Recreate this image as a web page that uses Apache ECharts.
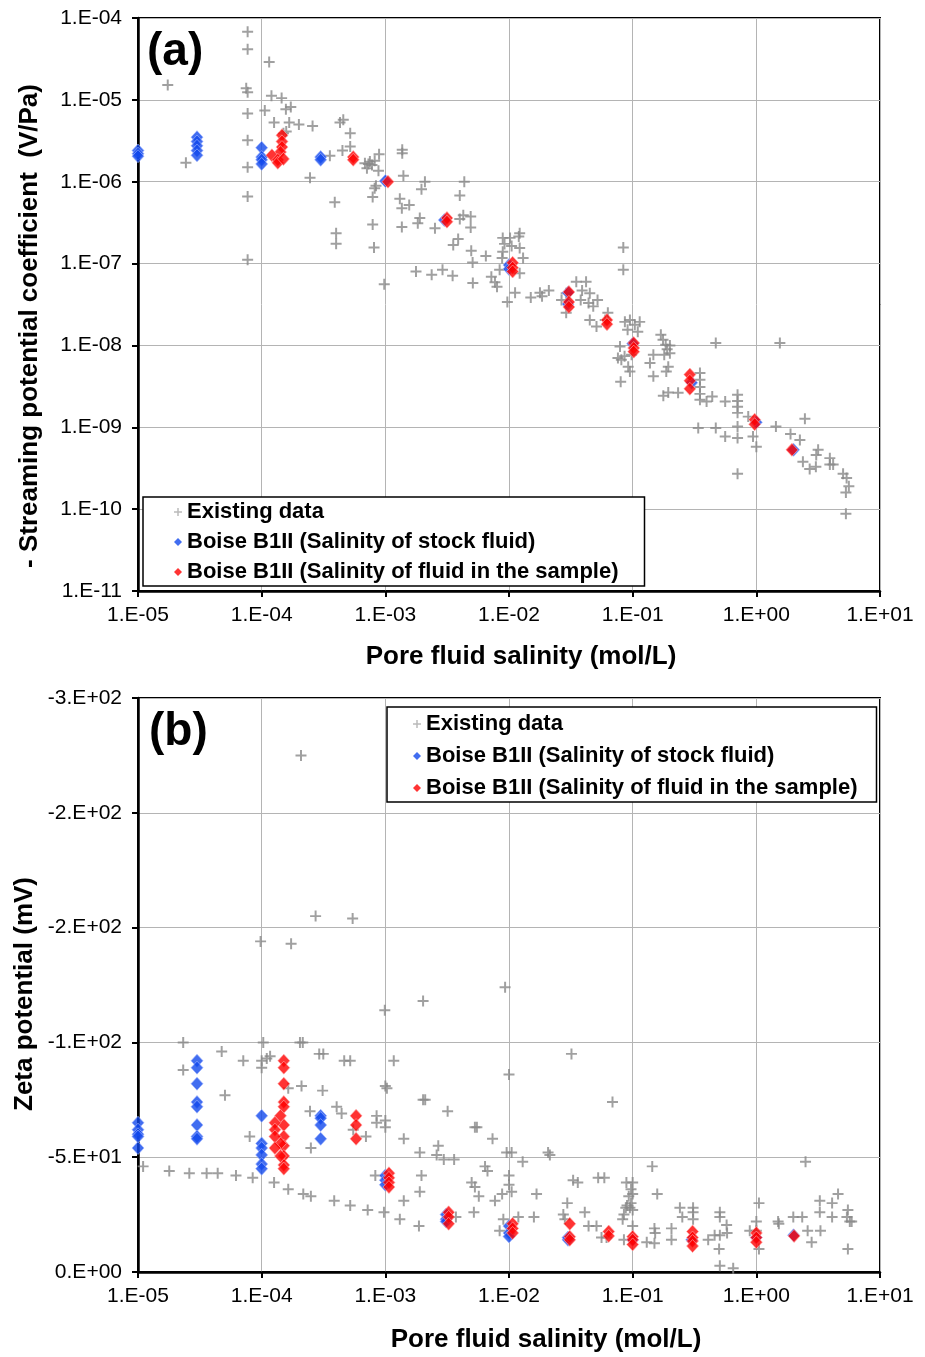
<!DOCTYPE html>
<html>
<head>
<meta charset="utf-8">
<title>Streaming potential coefficient and zeta potential vs pore fluid salinity</title>
<script src="https://cdn.jsdelivr.net/npm/echarts@6/dist/echarts.min.js"></script>
<style>
  html, body { margin: 0; padding: 0; background: #fff; }
  #chart { width: 925px; height: 1357px; }
</style>
</head>
<body>
<div id="chart"></div>
<script>
const FONT = '"Liberation Sans", Arial, sans-serif';
const PLUS = 'path://M0,4.1H10V5.9H0Z M4.1,0H5.9V10H4.1Z';

const seriesNames = [
  'Existing data',
  'Boise B1II (Salinity of stock fluid)',
  'Boise B1II (Salinity of fluid in the sample)'
];

const xTicks = [1e-5, 1e-4, 1e-3, 1e-2, 1e-1, 1, 10];
const coefTicks = [1e-11, 1e-10, 1e-9, 1e-8, 1e-7, 1e-6, 1e-5, 1e-4];
const zetaTicks = [0, -50, -100, -150, -200, -250];

// (a) salinity (mol/L), - streaming potential coefficient (V/Pa)
const existingA = [
  [7.7e-5, 6.8e-5], [7.7e-5, 4.15e-5], [1.15e-4, 2.9e-5], [1.74e-5, 1.52e-5], [7.5e-5, 1.39e-5],
  [7.7e-5, 1.24e-5], [1.2e-4, 1.12e-5], [1.45e-4, 1.05e-5], [1.06e-4, 7.4e-6], [1.57e-4, 7.7e-6],
  [1.72e-4, 8.2e-6], [7.7e-5, 6.8e-6], [1.26e-4, 5.3e-6], [1.67e-4, 5.3e-6], [2.0e-4, 5.0e-6],
  [2.58e-4, 4.8e-6], [4.3e-4, 5.3e-6], [4.57e-4, 5.7e-6], [5.2e-4, 3.9e-6], [1.58e-4, 4.1e-6],
  [1.5e-4, 3.9e-6], [7.7e-5, 3.2e-6], [5.2e-4, 2.7e-6], [4.5e-4, 2.4e-6], [3.56e-4, 2.07e-6],
  [2.44e-5, 1.71e-6], [7.7e-5, 1.5e-6], [2.46e-4, 1.12e-6], [6.84e-4, 1.68e-6], [7.5e-4, 1.76e-6],
  [8.2e-4, 1.8e-6], [8.9e-4, 2.17e-6], [8.8e-4, 1.36e-6], [7.1e-4, 1.46e-6], [7.8e-4, 1.6e-6],
  [7.3e-4, 1.65e-6], [8.4e-4, 8.9e-7], [8.2e-4, 8.3e-7], [7.7e-5, 6.6e-7], [3.9e-4, 5.6e-7],
  [7.9e-4, 6.5e-7], [4.0e-4, 2.35e-7], [4.0e-4, 1.75e-7], [7.9e-4, 3.0e-7], [8.1e-4, 1.57e-7],
  [7.7e-5, 1.11e-7], [1.37e-3, 2.45e-6], [1.37e-3, 2.23e-6], [1.4e-3, 1.18e-6], [2.09e-3, 1.0e-6],
  [1.96e-3, 8.1e-7], [4.35e-3, 1.0e-6], [4.0e-3, 6.8e-7], [1.31e-3, 6.2e-7], [1.36e-3, 4.75e-7],
  [1.56e-3, 5.2e-7], [1.9e-3, 3.6e-7], [1.83e-3, 3.1e-7], [1.36e-3, 2.8e-7], [2.52e-3, 2.7e-7],
  [4.27e-3, 3.9e-7], [4.9e-3, 3.75e-7], [4.0e-3, 3.5e-7], [4.9e-3, 2.75e-7], [3.88e-3, 1.99e-7],
  [3.54e-3, 1.69e-7], [4.95e-3, 1.43e-7], [5.08e-3, 1.03e-7], [6.5e-3, 1.24e-7], [1.22e-2, 2.35e-7],
  [1.2e-2, 2.14e-7], [8.9e-3, 2.06e-7], [1.02e-2, 2.06e-7], [9.2e-3, 1.74e-7], [1.05e-2, 1.64e-7],
  [8.9e-3, 1.39e-7], [1.22e-2, 1.55e-7], [1.3e-2, 1.17e-7], [8.8e-3, 1.17e-7], [1.77e-3, 8.0e-8],
  [2.37e-3, 7.3e-8], [2.9e-3, 8.4e-8], [3.5e-3, 7.1e-8], [5.1e-3, 5.8e-8], [9.8e-4, 5.6e-8],
  [7.2e-3, 6.9e-8], [7.7e-3, 5.9e-8], [8.0e-3, 5.2e-8], [8.4e-3, 8.4e-8], [1.22e-2, 7.6e-8],
  [1.12e-2, 4.4e-8], [9.7e-3, 3.4e-8], [1.5e-2, 3.85e-8], [1.78e-2, 4.4e-8], [1.85e-2, 4.0e-8],
  [2.1e-2, 4.7e-8], [8.4e-2, 1.57e-7], [8.4e-2, 8.4e-8], [2.9e-2, 4.35e-8], [2.66e-2, 3.6e-8],
  [2.9e-2, 2.5e-8], [3.5e-2, 6.0e-8], [4.2e-2, 6.0e-8], [4.5e-2, 4.35e-8], [4.4e-2, 3.3e-8],
  [4.8e-2, 3.0e-8], [3.9e-2, 4.7e-8], [5.2e-2, 3.6e-8], [3.8e-2, 3.6e-8], [6.3e-2, 2.5e-8],
  [6.0e-2, 2.05e-8], [4.5e-2, 2.05e-8], [5.1e-2, 1.7e-8], [8.65e-2, 1.94e-8], [9.5e-2, 2.05e-8],
  [1.04e-1, 1.79e-8], [1.14e-1, 1.94e-8], [9.1e-2, 1.55e-8], [1.1e-1, 1.47e-8], [7.9e-2, 9.7e-9],
  [8.1e-2, 6.7e-9], [9.2e-2, 5.5e-9], [9.5e-2, 4.8e-9], [8.0e-2, 3.6e-9], [7.6e-2, 7.0e-9],
  [8.6e-2, 7.4e-9], [9.8e-2, 7.7e-9], [1.69e-1, 1.35e-8], [1.76e-1, 1.17e-8], [1.85e-1, 1.02e-8],
  [1.9e-1, 9.0e-9], [2.0e-1, 8.0e-9], [1.8e-1, 7.7e-9], [2.0e-1, 1.0e-8], [1.47e-1, 7.7e-9],
  [1.38e-1, 6.1e-9], [1.47e-1, 4.2e-9], [1.94e-1, 5.5e-9], [1.87e-1, 4.8e-9], [1.77e-1, 2.43e-9],
  [1.94e-1, 2.66e-9], [2.33e-1, 2.64e-9], [3.5e-1, 4.6e-9], [3.5e-1, 3.8e-9], [3.5e-1, 3.1e-9],
  [3.5e-1, 2.56e-9], [3.5e-1, 2.17e-9], [3.96e-1, 2.07e-9], [4.4e-1, 2.38e-9], [5.6e-1, 2.07e-9],
  [7.05e-1, 2.5e-9], [7.05e-1, 2.09e-9], [7.05e-1, 1.78e-9], [7.05e-1, 1.5e-9], [4.7e-1, 1.07e-8],
  [1.55, 1.07e-8], [3.39e-1, 9.8e-10], [4.7e-1, 9.8e-10], [5.6e-1, 7.7e-10], [7.05e-1, 1.02e-9],
  [7.05e-1, 7.4e-10], [8.6e-1, 1.35e-9], [9.4e-1, 7.7e-10], [1.0, 5.8e-10], [7.05e-1, 2.7e-10],
  [1.44, 1.02e-9], [1.89, 8.3e-10], [2.25, 7.0e-10], [2.47, 1.27e-9], [2.38, 3.8e-10],
  [2.7, 3.1e-10], [3.03, 3.3e-10], [3.16, 5.3e-10], [3.05, 4.6e-10], [3.93, 4.2e-10],
  [4.18, 3.5e-10], [3.93, 3.5e-10], [5.03, 2.7e-10], [5.37, 2.4e-10], [5.6, 1.9e-10],
  [5.3, 1.6e-10], [5.3, 8.8e-11]
];

const stockA = [
  [1e-5, 2.4e-6], [1e-5, 2.2e-6], [1e-5, 2.05e-6],
  [3e-5, 3.5e-6], [3e-5, 3.1e-6], [3e-5, 2.75e-6], [3e-5, 2.4e-6], [3e-5, 2.1e-6],
  [1e-4, 2.6e-6], [1e-4, 2.0e-6], [1e-4, 1.85e-6], [1e-4, 1.65e-6],
  [3e-4, 2.0e-6], [3e-4, 1.85e-6],
  [1e-3, 1.02e-6], [3e-3, 3.4e-7], [1e-2, 9.6e-8], [1e-2, 8.6e-8],
  [3e-2, 4.4e-8], [3e-2, 3.2e-8], [1e-1, 1.05e-8], [0.3, 3.5e-9], [1.0, 1.15e-9], [2.0, 5.3e-10]
];

const sampleA = [
  [1.46e-4, 3.7e-6], [1.46e-4, 3.1e-6], [1.46e-4, 2.65e-6], [1.42e-4, 2.3e-6], [1.21e-4, 2.1e-6],
  [1.35e-4, 1.85e-6], [1.35e-4, 1.7e-6], [1.5e-4, 1.9e-6],
  [5.5e-4, 2.0e-6], [5.5e-4, 1.85e-6],
  [1.05e-3, 1.0e-6],
  [3.15e-3, 3.6e-7], [3.15e-3, 3.25e-7],
  [1.07e-2, 1.02e-7], [1.07e-2, 8.9e-8], [1.07e-2, 8.0e-8],
  [3.05e-2, 4.5e-8], [3.05e-2, 3.4e-8], [3.05e-2, 2.95e-8],
  [6.2e-2, 2.05e-8], [6.2e-2, 1.82e-8],
  [1.02e-1, 1.07e-8], [1.02e-1, 9.3e-9], [1.02e-1, 8.4e-9],
  [0.29, 4.4e-9], [0.29, 3.7e-9], [0.29, 2.95e-9],
  [0.97, 1.24e-9], [0.97, 1.09e-9],
  [1.94, 5.3e-10]
];

// (b) salinity (mol/L), zeta potential (mV)
const existingB = [
  [2.08e-4, -225], [2.73e-4, -155], [5.44e-4, -154], [9.8e-5, -144], [1.73e-4, -143],
  [9.9e-4, -114], [2.02e-3, -118], [9.3e-3, -124], [2.32e-5, -100], [2.32e-5, -88],
  [4.75e-5, -96], [7.1e-5, -92], [1.03e-4, -100], [1.0e-4, -92], [1.0e-4, -89],
  [1.1e-4, -93], [1.17e-4, -94], [2.04e-4, -100], [2.15e-4, -100], [2.92e-4, -95],
  [3.15e-4, -95], [4.65e-4, -92], [5.2e-4, -92], [5.05e-5, -77], [1.64e-4, -80],
  [2.1e-4, -81], [3.11e-4, -79], [2.46e-4, -70], [4.04e-4, -72], [4.43e-4, -69],
  [8.0e-5, -59], [2.5e-4, -54], [5.5e-4, -62], [6.97e-4, -59], [8.5e-4, -68],
  [8.5e-4, -65], [1.0e-3, -66], [1.0e-3, -63], [1.0e-3, -81], [1.03e-3, -80],
  [8.3e-4, -42], [1.1e-5, -46], [1.79e-5, -44], [2.6e-5, -43], [3.59e-5, -43],
  [4.41e-5, -43], [6.2e-5, -42], [8.46e-5, -41], [1.26e-4, -39], [1.64e-4, -36],
  [2.17e-4, -34], [2.5e-4, -33], [3.86e-4, -31], [5.2e-4, -29], [7.2e-4, -27],
  [9.75e-4, -26], [1.17e-3, -92], [2.02e-3, -75], [2.1e-3, -75], [3.19e-3, -70],
  [5.3e-3, -63], [5.5e-3, -63], [1.0e-2, -86], [3.2e-2, -95], [6.87e-2, -74],
  [1.41e-3, -58], [1.9e-3, -52], [2.68e-3, -55], [2.6e-3, -51], [2.97e-3, -49],
  [3.6e-3, -49], [7.36e-3, -58], [9.57e-3, -52], [1.05e-2, -52], [1.29e-2, -48],
  [2.07e-2, -52], [2.14e-2, -51], [6.4e-3, -46], [6.7e-3, -44], [1.0e-2, -42],
  [1.0e-2, -38], [1.05e-2, -35], [8.8e-3, -34], [4.99e-3, -39], [5.3e-3, -37],
  [5.7e-3, -33], [7.7e-3, -31], [1.67e-2, -34], [1.96e-3, -42], [1.9e-3, -35],
  [1.41e-3, -31], [1.31e-3, -23], [1.87e-3, -20], [3.72e-3, -24], [5.2e-3, -26],
  [9.0e-3, -23], [8.4e-3, -18], [1.19e-2, -24], [1.59e-2, -24], [2.96e-2, -30],
  [2.75e-2, -25], [2.83e-2, -23], [3.3e-2, -40], [3.6e-2, -39], [5.26e-2, -41],
  [5.9e-2, -41], [4.1e-2, -26], [4.4e-2, -20], [5.1e-2, -20], [5.6e-2, -15],
  [6.15e-2, -15], [8.9e-2, -39], [0.1, -39], [0.097, -36], [0.1, -34],
  [0.093, -33], [0.097, -30], [0.09, -29], [0.095, -28], [0.088, -28],
  [0.1, -27], [0.085, -25], [0.083, -23], [0.1, -20], [0.085, -14],
  [0.144, -46], [0.158, -34], [0.15, -19], [0.152, -17], [0.206, -19],
  [0.206, -14], [0.241, -28], [0.252, -24], [0.308, -28], [0.308, -26],
  [0.308, -23], [0.13, -13], [0.15, -12.5], [0.507, -26], [0.507, -24],
  [0.575, -20.5], [0.408, -14], [0.46, -16], [0.507, -16], [0.58, -17],
  [0.5, -10], [0.507, -2.7], [0.65, -1.6], [1.05, -30], [1.0, -22],
  [1.0, -18], [1.05, -10], [0.885, -18], [1.5, -22], [1.52, -21],
  [1.99, -24], [2.35, -24], [2.5, -48], [2.6, -18], [3.3, -18],
  [2.8, -13], [3.26, -31], [4.1, -30], [4.58, -34], [3.26, -26],
  [4.1, -24], [5.5, -27], [5.4, -24], [5.7, -22], [5.9, -22], [5.5, -10]
];

const stockB = [
  [1e-5, -65], [1e-5, -62], [1e-5, -60], [1e-5, -59], [1e-5, -54],
  [3e-5, -92], [3e-5, -89], [3e-5, -82], [3e-5, -74], [3e-5, -72], [3e-5, -64], [3e-5, -59], [3e-5, -58],
  [1e-4, -68], [1e-4, -56], [1e-4, -54], [1e-4, -51], [1e-4, -47], [1e-4, -45],
  [3e-4, -68], [3e-4, -67], [3e-4, -64], [3e-4, -58],
  [1e-3, -42], [1e-3, -40], [1e-3, -38],
  [3.1e-3, -25], [3.1e-3, -23], [3.1e-3, -22],
  [1e-2, -20], [1e-2, -17], [1e-2, -15.5],
  [3e-2, -14], [3e-2, -15], [0.1, -14], [0.3, -14], [1, -15], [2, -16]
];

const sampleB = [
  [1.51e-4, -92], [1.51e-4, -89], [1.51e-4, -82], [1.51e-4, -74], [1.51e-4, -72], [1.51e-4, -64],
  [1.51e-4, -59], [1.51e-4, -55], [1.51e-4, -50.5], [1.51e-4, -46.6], [1.51e-4, -45],
  [1.42e-4, -68], [1.42e-4, -56], [1.42e-4, -50.5],
  [1.28e-4, -65], [1.28e-4, -62], [1.28e-4, -59], [1.28e-4, -54],
  [5.8e-4, -68], [5.8e-4, -64], [5.8e-4, -58],
  [1.07e-3, -43], [1.07e-3, -41], [1.07e-3, -39], [1.07e-3, -37],
  [3.25e-3, -26], [3.25e-3, -24], [3.25e-3, -21],
  [1.07e-2, -21], [1.07e-2, -19], [1.07e-2, -17],
  [3.1e-2, -21], [3.1e-2, -15.4], [3.1e-2, -14],
  [6.4e-2, -17.6], [6.4e-2, -15.7],
  [0.1, -15.4], [0.1, -14], [0.1, -12],
  [0.305, -17.6], [0.305, -15], [0.305, -13.5], [0.305, -11.3],
  [1.0, -17], [1.0, -15], [1.0, -13],
  [2.02, -15.7]
];

// Excel style "0.E+00" numbers
function excelExp(v) {
  if (v === 0) return '0.E+00';
  const parts = Number(v).toExponential(0).split('e');
  const e = parseInt(parts[1], 10);
  return parts[0] + '.E' + (e < 0 ? '-' : '+') + (Math.abs(e) < 10 ? '0' : '') + Math.abs(e);
}

const labelStyle = { color: '#000', fontSize: 21, fontFamily: FONT };

function logXAxis(gridIndex) {
  return {
    type: 'log', logBase: 10, gridIndex: gridIndex,
    min: xTicks[0], max: xTicks[xTicks.length - 1], splitNumber: xTicks.length - 1,
    axisLine: { lineStyle: { color: '#000', width: 2.5 } },
    axisTick: { show: true, length: 6, lineStyle: { color: '#000', width: 2 } },
    axisLabel: Object.assign({ margin: 14, formatter: excelExp }, labelStyle),
    splitLine: { show: true, lineStyle: { color: '#b4b4b4', width: 1 } },
    minorTick: { show: false }, minorSplitLine: { show: false }
  };
}

function scatter(name, data, xi, yi, kind) {
  const s = { name: name, type: 'scatter', xAxisIndex: xi, yAxisIndex: yi, data: data, animation: false };
  if (kind === 'plus') {
    s.symbol = PLUS; s.symbolSize = 11; s.z = 2;
    s.itemStyle = { color: '#888888' };
  } else if (kind === 'blue') {
    s.symbol = 'diamond'; s.symbolSize = [12, 13]; s.z = 3;
    s.itemStyle = { color: '#1248ec', borderColor: '#9fb4ff', borderWidth: 0.8 };
  } else {
    s.symbol = 'diamond'; s.symbolSize = [12, 13]; s.z = 4;
    s.itemStyle = { color: '#ff0000', borderColor: '#ffa9a9', borderWidth: 0.8 };
  }
  return s;
}

function legendBox(left, top, pad, gap, size) {
  return {
    left: left, top: top, orient: 'vertical', padding: pad, itemGap: gap,
    itemWidth: 8, itemHeight: 8, selectedMode: false,
    backgroundColor: '#fff', borderColor: '#000', borderWidth: 1.5, borderRadius: 0,
    textStyle: { color: '#000', fontSize: size, fontWeight: 'bold', fontFamily: FONT, lineHeight: 22 },
    data: [
      { name: seriesNames[0], icon: PLUS, itemStyle: { color: '#a8a8a8' } },
      { name: seriesNames[1], icon: 'diamond', itemStyle: { color: '#1248ec', borderWidth: 0 } },
      { name: seriesNames[2], icon: 'diamond', itemStyle: { color: '#ff0000', borderWidth: 0 } }
    ]
  };
}

const titleFont = { fontFamily: FONT, fontWeight: 'bold', fill: '#000' };

const chart = echarts.init(document.getElementById('chart'), null, { renderer: 'canvas' });
chart.setOption({
  animation: false,
  backgroundColor: '#fff',
  grid: [
    { left: 138, top: 18, width: 742, height: 573, show: true, borderColor: '#000', borderWidth: 2, backgroundColor: 'transparent' },
    { left: 138, top: 698, width: 742, height: 574, show: true, borderColor: '#000', borderWidth: 2, backgroundColor: 'transparent' }
  ],
  xAxis: [logXAxis(0), logXAxis(1)],
  yAxis: [
    {
      type: 'log', logBase: 10, gridIndex: 0,
      min: coefTicks[0], max: coefTicks[coefTicks.length - 1], splitNumber: coefTicks.length - 1,
      axisLine: { lineStyle: { color: '#000', width: 2.5 } },
      axisTick: { show: true, length: 6, lineStyle: { color: '#000', width: 2 } },
      axisLabel: Object.assign({ margin: 16, formatter: excelExp }, labelStyle),
      splitLine: { show: true, lineStyle: { color: '#b4b4b4', width: 1 } },
      minorTick: { show: false }, minorSplitLine: { show: false }
    },
    {
      type: 'value', gridIndex: 1, inverse: true,
      min: zetaTicks[zetaTicks.length - 1], max: zetaTicks[0], interval: 50,
      axisLine: { lineStyle: { color: '#000', width: 2.5 } },
      axisTick: { show: true, length: 6, lineStyle: { color: '#000', width: 2 } },
      axisLabel: Object.assign({ margin: 16, formatter: excelExp }, labelStyle),
      splitLine: { show: true, lineStyle: { color: '#b4b4b4', width: 1 } }
    }
  ],
  legend: [
    legendBox(143, 497, [4, 26, 3, 31], 8, 22),
    legendBox(387, 707, [6, 19, 3, 26], 10, 22)
  ],
  graphic: [
    { type: 'text', left: 147, top: 29, z: 10, style: Object.assign({ text: '(a)', fontSize: 46 }, titleFont) },
    { type: 'text', left: 149, top: 709, z: 10, style: Object.assign({ text: '(b)', fontSize: 46 }, titleFont) },
    { type: 'text', x: 521, y: 657, style: Object.assign({ text: 'Pore fluid salinity (mol/L)', fontSize: 26, textAlign: 'center', textVerticalAlign: 'middle' }, titleFont) },
    { type: 'text', x: 546, y: 1340, style: Object.assign({ text: 'Pore fluid salinity (mol/L)', fontSize: 26, textAlign: 'center', textVerticalAlign: 'middle' }, titleFont) },
    { type: 'text', x: 30, y: 326, rotation: Math.PI / 2, style: Object.assign({ text: '- Streaming potential coefficient  (V/Pa)', fontSize: 26, textAlign: 'center', textVerticalAlign: 'middle' }, titleFont) },
    { type: 'text', x: 25, y: 994, rotation: Math.PI / 2, style: Object.assign({ text: 'Zeta potential (mV)', fontSize: 26, textAlign: 'center', textVerticalAlign: 'middle' }, titleFont) }
  ],
  series: [
    scatter(seriesNames[0], existingA, 0, 0, 'plus'),
    scatter(seriesNames[1], stockA, 0, 0, 'blue'),
    scatter(seriesNames[2], sampleA, 0, 0, 'red'),
    scatter(seriesNames[0], existingB, 1, 1, 'plus'),
    scatter(seriesNames[1], stockB, 1, 1, 'blue'),
    scatter(seriesNames[2], sampleB, 1, 1, 'red')
  ]
});
</script>
</body>
</html>
